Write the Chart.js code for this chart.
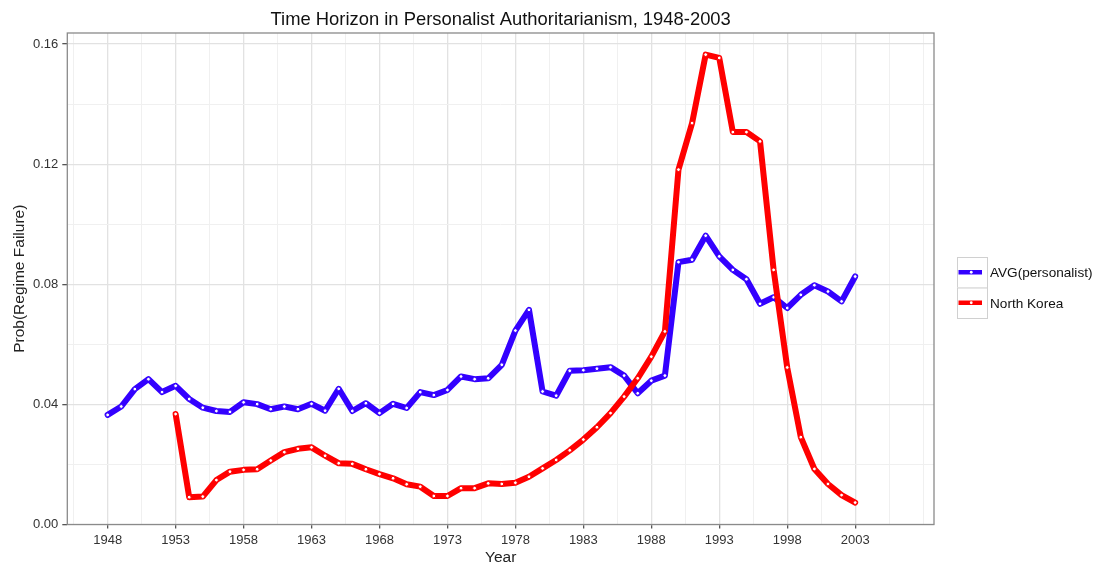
<!DOCTYPE html>
<html>
<head>
<meta charset="utf-8">
<script src="https://cdn.jsdelivr.net/npm/chart.js@4.4.1/dist/chart.umd.min.js"></script>
<style>
  html, body { margin: 0; padding: 0; background: #ffffff; }
  canvas { display: block; }
</style>
</head>
<body>
<canvas id="chart" width="1096" height="566"></canvas>
<script>
// Predicted probability of regime failure, personalist regimes average vs. North Korea
const avgYears = [
  1948, 1949, 1950, 1951, 1952, 1953, 1954, 1955, 1956, 1957,
  1958, 1959, 1960, 1961, 1962, 1963, 1964, 1965, 1966, 1967,
  1968, 1969, 1970, 1971, 1972, 1973, 1974, 1975, 1976, 1977,
  1978, 1979, 1980, 1981, 1982, 1983, 1984, 1985, 1986, 1987,
  1988, 1989, 1990, 1991, 1992, 1993, 1994, 1995, 1996, 1997,
  1998, 1999, 2000, 2001, 2002, 2003
];
const avgValues = [
  0.0365, 0.0393, 0.0451, 0.0484, 0.0441, 0.0462, 0.0418, 0.0389, 0.0378, 0.0375,
  0.0407, 0.0401, 0.0384, 0.0393, 0.0384, 0.0402, 0.0379, 0.0452, 0.0378, 0.0404,
  0.0371, 0.0402, 0.0388, 0.0441, 0.0431, 0.0448, 0.0493, 0.0484, 0.0487, 0.0532,
  0.0646, 0.0715, 0.0443, 0.0429, 0.0512, 0.0514, 0.0519, 0.0524, 0.0496, 0.0437,
  0.0479, 0.0496, 0.0874, 0.0882, 0.0962, 0.0893, 0.0848, 0.0817, 0.0735, 0.0757,
  0.0721, 0.0765, 0.0797, 0.0776, 0.0743, 0.0826
];
const nkYears = [
  1953, 1954, 1955, 1956, 1957, 1958, 1959, 1960, 1961, 1962,
  1963, 1964, 1965, 1966, 1967, 1968, 1969, 1970, 1971, 1972,
  1973, 1974, 1975, 1976, 1977, 1978, 1979, 1980, 1981, 1982,
  1983, 1984, 1985, 1986, 1987, 1988, 1989, 1990, 1991, 1992,
  1993, 1994, 1995, 1996, 1997, 1998, 1999, 2000, 2001, 2002,
  2003
];
const nkValues = [
  0.0368, 0.0091, 0.0093, 0.0148, 0.0176, 0.0182, 0.0184, 0.0213, 0.0241, 0.0252,
  0.0257, 0.0229, 0.0204, 0.0202, 0.0184, 0.0168, 0.0154, 0.0134, 0.0126, 0.0095,
  0.0095, 0.0121, 0.0121, 0.0137, 0.0135, 0.0139, 0.0159, 0.0187, 0.0215, 0.0247,
  0.0283, 0.0324, 0.0371, 0.0426, 0.0487, 0.0559, 0.0643, 0.1182, 0.1337, 0.1565,
  0.1554, 0.1307, 0.1307, 0.1276, 0.0848, 0.0523, 0.0291, 0.0185, 0.0135, 0.0098,
  0.0073
];

// Axis breaks
const xMajorTicks = [1948, 1953, 1958, 1963, 1968, 1973, 1978, 1983, 1988, 1993, 1998, 2003];
const xMinorTicks = [1945.5, 1950.5, 1955.5, 1960.5, 1965.5, 1970.5, 1975.5, 1980.5,
                     1985.5, 1990.5, 1995.5, 2000.5, 2005.5, 2008];
const yMajorTicks = [0, 0.04, 0.08, 0.12, 0.16];
const yMinorTicks = [0.02, 0.06, 0.10, 0.14];

const seriesNames = ['AVG(personalist)', 'North Korea'];
const seriesColors = ['#3300ff', '#ff0000'];
const titleText = 'Time Horizon in Personalist Authoritarianism, 1948-2003';
const xTitle = 'Year';
const yTitle = 'Prob(Regime Failure)';

const FONT = '"Liberation Sans", Arial, Helvetica, sans-serif';

function toPoints(xs, ys) {
  return xs.map((x, i) => ({ x: x, y: ys[i] }));
}

function isMajor(list, v) {
  return list.some(m => Math.abs(m - v) < 1e-9);
}

// Panel frame, titles and the legend keys
const decorations = {
  id: 'decorations',
  afterDraw(chart) {
    const { ctx, chartArea: a } = chart;
    ctx.save();
    ctx.strokeStyle = '#8a8a8a';
    ctx.lineWidth = 1.3;
    ctx.strokeRect(a.left, a.top, a.right - a.left, a.bottom - a.top);

    ctx.fillStyle = '#111111';
    ctx.textAlign = 'center';
    ctx.textBaseline = 'middle';
    ctx.font = '18.4px ' + FONT;
    ctx.fillText(titleText, (a.left + a.right) / 2, 20);

    ctx.fillStyle = '#222222';
    ctx.font = '15.5px ' + FONT;
    ctx.fillText(xTitle, (a.left + a.right) / 2, 558);

    ctx.save();
    ctx.translate(20, (a.top + a.bottom) / 2);
    ctx.rotate(-Math.PI / 2);
    ctx.fillText(yTitle, 0, 0);
    ctx.restore();

    // legend
    const keyX = 957, keyW = 30, keyH = 30.5, keyTop = 257;
    chart.data.datasets.forEach((ds, i) => {
      const y0 = keyTop + i * keyH;
      ctx.fillStyle = '#ffffff';
      ctx.fillRect(keyX, y0, keyW, keyH);
      ctx.strokeStyle = '#d0d0d0';
      ctx.lineWidth = 1;
      ctx.strokeRect(keyX + 0.5, y0 + 0.5, keyW, keyH);
      const cy = y0 + keyH / 2;
      ctx.strokeStyle = ds.borderColor;
      ctx.lineWidth = 4.5;
      ctx.lineCap = 'butt';
      ctx.beginPath();
      ctx.moveTo(keyX + 1.5, cy);
      ctx.lineTo(keyX + keyW - 5, cy);
      ctx.stroke();
      ctx.fillStyle = '#ffffff';
      ctx.beginPath();
      ctx.arc(keyX + (keyW - 3.5) / 2 + 1, cy, 1.4, 0, Math.PI * 2);
      ctx.fill();
      ctx.fillStyle = '#111111';
      ctx.font = '13.6px ' + FONT;
      ctx.textAlign = 'left';
      ctx.textBaseline = 'middle';
      ctx.fillText(ds.label, 990, cy + 1);
    });
    ctx.restore();
  }
};

const xGrid = xMinorTicks.concat(xMajorTicks).sort((a, b) => a - b);
const yGrid = yMinorTicks.concat(yMajorTicks).sort((a, b) => a - b);

function lineDataset(name, color, points, order) {
  return {
    label: name,
    data: points,
    borderColor: color,
    backgroundColor: color,
    borderWidth: 6,
    borderJoinStyle: 'round',
    borderCapStyle: 'round',
    pointRadius: 1.9,
    pointBorderWidth: 1,
    pointBackgroundColor: '#ffffff',
    pointBorderColor: color,
    tension: 0,
    order: order
  };
}

new Chart(document.getElementById('chart'), {
  type: 'line',
  data: {
    datasets: [
      lineDataset(seriesNames[0], seriesColors[0], toPoints(avgYears, avgValues), 2),
      lineDataset(seriesNames[1], seriesColors[1], toPoints(nkYears, nkValues), 1)
    ]
  },
  options: {
    responsive: false,
    devicePixelRatio: 1,
    animation: false,
    events: [],
    layout: { padding: { top: 33, right: 162, left: 0, bottom: 0 } },
    plugins: {
      legend: { display: false },
      tooltip: { enabled: false },
      title: { display: false }
    },
    scales: {
      x: {
        type: 'linear',
        min: 1945.03,
        max: 2008.8,
        afterBuildTicks: s => { s.ticks = xGrid.map(v => ({ value: v })); },
        afterFit: s => { s.height = 41.5; },
        border: { display: false },
        grid: {
          drawTicks: true,
          tickLength: 4,
          color: c => isMajor(xMajorTicks, c.tick.value) ? '#e2e2e2' : '#f0f0f0',
          lineWidth: c => isMajor(xMajorTicks, c.tick.value) ? 1.3 : 1,
          tickColor: c => isMajor(xMajorTicks, c.tick.value) ? '#555555' : 'rgba(0,0,0,0)',
          tickWidth: 1.3
        },
        ticks: {
          autoSkip: false,
          maxRotation: 0,
          padding: 4,
          color: '#333333',
          font: { family: FONT, size: 13 },
          callback: v => isMajor(xMajorTicks, v) ? String(v) : ''
        }
      },
      y: {
        type: 'linear',
        min: 0,
        max: 0.1637,
        afterBuildTicks: s => { s.ticks = yGrid.map(v => ({ value: v })); },
        afterFit: s => { s.width = 67.3; },
        border: { display: false },
        grid: {
          drawTicks: true,
          tickLength: 5,
          color: c => isMajor(yMajorTicks, c.tick.value) ? '#e2e2e2' : '#f0f0f0',
          lineWidth: c => isMajor(yMajorTicks, c.tick.value) ? 1.3 : 1,
          tickColor: c => isMajor(yMajorTicks, c.tick.value) ? '#555555' : 'rgba(0,0,0,0)',
          tickWidth: 1.3
        },
        ticks: {
          autoSkip: false,
          padding: 4,
          color: '#333333',
          font: { family: FONT, size: 13 },
          callback: v => isMajor(yMajorTicks, v) ? v.toFixed(2) : ''
        }
      }
    }
  },
  plugins: [decorations]
});
</script>
</body>
</html>
